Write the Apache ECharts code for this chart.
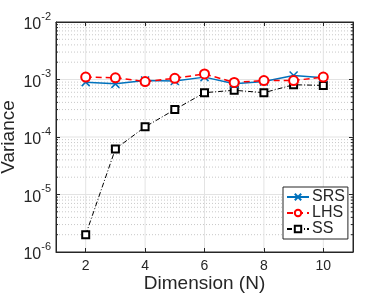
<!DOCTYPE html>
<html><head><meta charset="utf-8">
<script src="https://cdn.jsdelivr.net/npm/echarts@6/dist/echarts.min.js"></script>
<style>html,body{margin:0;padding:0;background:#fff}#c{width:390px;height:293px}</style>
</head><body><div id="c"></div>
<script>
const dims = [2, 3, 4, 5, 6, 7, 8, 9, 10];
const srs = [9.0e-4, 8.4e-4, 9.6e-4, 9.4e-4, 1.1e-3, 8.4e-4, 9.2e-4, 1.17e-3, 1.07e-3];
const lhs = [1.1e-3, 1.07e-3, 9.2e-4, 1.05e-3, 1.25e-3, 8.9e-4, 9.6e-4, 9.6e-4, 1.1e-3];
const ss  = [2.0e-6, 6.2e-5, 1.5e-4, 3.0e-4, 5.9e-4, 6.5e-4, 5.9e-4, 8.1e-4, 7.9e-4];
const xTicks = [2, 4, 6, 8, 10];
const xMin = 1, xMax = 11;
const yMin = 1e-6, yMax = 1e-2;

const minorY = [];
for (let e = -6; e < -2; e++) for (let m = 2; m <= 9; m++) minorY.push(m * Math.pow(10, e));
const majorY = [1e-5, 1e-4, 1e-3];

const FONT = 'Liberation Sans, Arial, sans-serif';
const TXT = '#262626';
const GRIDC = '#e3e3e3';

const pair = arr => dims.map((d, i) => [d, arr[i]]);
const cross = 'path://M0,0L10,10M10,0L0,10';

function hLines(color, dash, tickLen) {
  return function (params, api) {
    const v = api.value(1);
    const a = api.coord([xMin, v]), b = api.coord([xMax, v]);
    const children = [{type: 'line', shape: {x1: a[0], y1: a[1], x2: b[0], y2: b[1]},
      style: {stroke: color, lineWidth: 1, lineDash: dash}}];
    if (tickLen) {
      children.push({type: 'line', shape: {x1: a[0], y1: a[1], x2: a[0] + tickLen, y2: a[1]},
        style: {stroke: TXT, lineWidth: 1}});
      children.push({type: 'line', shape: {x1: b[0], y1: b[1], x2: b[0] - tickLen, y2: b[1]},
        style: {stroke: TXT, lineWidth: 1}});
    }
    return {type: 'group', children: children};
  };
}
function vLines(params, api) {
  const x = api.value(0);
  const a = api.coord([x, yMin]), b = api.coord([x, yMax]);
  return {type: 'line', shape: {x1: a[0], y1: a[1], x2: b[0], y2: b[1]},
    style: {stroke: GRIDC, lineWidth: 1}};
}

const chart = echarts.init(document.getElementById('c'), null, {renderer: 'canvas'});
chart.setOption({
  animation: false,
  backgroundColor: '#fff',
  grid: {left: 56, top: 22, right: 37, bottom: 41, show: true, borderColor: TXT, borderWidth: 1,
         outerBoundsMode: 'none', containLabel: false},
  xAxis: [{
    type: 'value', min: xMin, max: xMax,
    name: 'Dimension (N)', nameLocation: 'middle', nameGap: 22, nameMoveOverlap: false,
    nameTextStyle: {fontFamily: FONT, fontSize: 19, color: TXT},
    axisLine: {lineStyle: {color: TXT}},
    axisTick: {inside: true, length: 4, customValues: xTicks, lineStyle: {color: TXT}},
    axisLabel: {customValues: xTicks, fontFamily: FONT, fontSize: 14, color: TXT, margin: 7},
    splitLine: {show: false}
  }, {
    type: 'value', min: xMin, max: xMax, position: 'top',
    axisLine: {lineStyle: {color: TXT}},
    axisTick: {inside: true, length: 4, customValues: xTicks, lineStyle: {color: TXT}},
    axisLabel: {show: false}, splitLine: {show: false}
  }],
  yAxis: [{
    type: 'log', min: yMin, max: yMax, logBase: 10,
    name: 'Variance', nameLocation: 'middle', nameGap: 38, nameMoveOverlap: false,
    nameTextStyle: {fontFamily: FONT, fontSize: 19, color: TXT},
    axisLine: {lineStyle: {color: TXT}},
    axisTick: {inside: true, length: 4, lineStyle: {color: TXT}},
    axisLabel: {
      fontFamily: FONT, color: TXT, margin: 5,
      formatter: v => '{b|10}{s|' + Math.round(Math.log10(v)) + '}',
      rich: {
        b: {fontFamily: FONT, fontSize: 16, color: TXT, lineHeight: 22, verticalAlign: 'bottom'},
        s: {fontFamily: FONT, fontSize: 11, color: TXT, lineHeight: 22, verticalAlign: 'top'}
      }
    },
    splitLine: {show: false}
  }, {
    type: 'log', min: yMin, max: yMax, logBase: 10, position: 'right',
    axisLine: {lineStyle: {color: TXT}},
    axisTick: {inside: true, length: 4, lineStyle: {color: TXT}},
    axisLabel: {show: false}, splitLine: {show: false}
  }],
  legend: {
    orient: 'vertical', left: 283, top: 187, width: 64,
    backgroundColor: '#fff', borderColor: TXT, borderWidth: 1,
    padding: [2, 3, 2, 3], itemGap: 0, itemWidth: 22, itemHeight: 8,
    textStyle: {fontFamily: FONT, fontSize: 16, color: TXT, lineHeight: 16, padding: [0, 0, 0, -2]},
    data: ['SRS', 'LHS', 'SS']
  },
  series: [
    {
      name: 'minorGrid', type: 'custom', silent: true, z: 0,
      data: minorY.map(v => [xMin, v]), renderItem: hLines('#c8c8c8', [1, 2], 2)
    },
    {
      name: 'majorGrid', type: 'custom', silent: true, z: 0,
      data: majorY.map(v => [xMin, v]), renderItem: hLines(GRIDC, null, 0)
    },
    {
      name: 'xGrid', type: 'custom', silent: true, z: 0,
      data: xTicks.map(v => [v, yMin]), renderItem: vLines
    },
    {
      name: 'SRS', type: 'line', data: pair(srs), symbol: cross, symbolSize: 8, z: 3,
      lineStyle: {color: '#0072BD', width: 1.5},
      itemStyle: {color: '#0072BD', borderColor: '#0072BD', borderWidth: 1.5}
    },
    {
      name: 'LHS', type: 'line', data: pair(lhs), symbol: 'emptyCircle', symbolSize: 9, z: 4,
      lineStyle: {color: '#ff0000', width: 1.5, type: [6, 4]},
      itemStyle: {color: '#ff0000', borderWidth: 1.5}
    },
    {
      name: 'SS', type: 'line', data: pair(ss), symbol: 'emptyRect', symbolSize: 7, z: 2,
      lineStyle: {color: '#000', width: 1, type: [5, 2, 1, 2]},
      itemStyle: {color: '#000', borderWidth: 1}
    }
  ]
});
</script></body></html>
